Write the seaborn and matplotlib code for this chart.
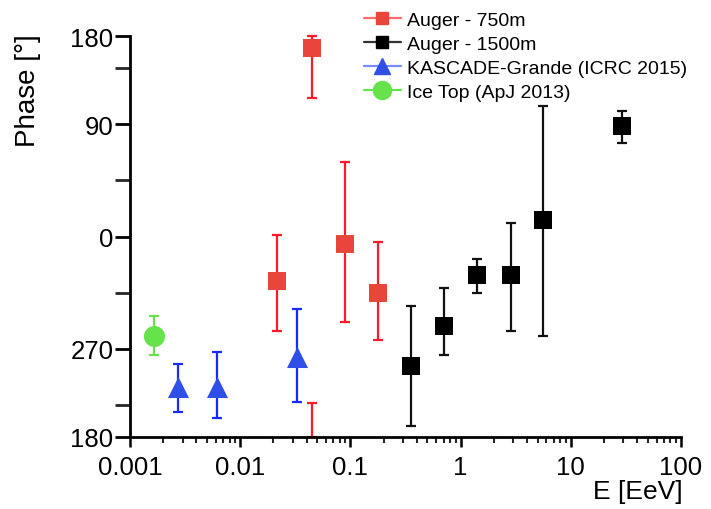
import numpy as np
import pandas as pd
import matplotlib
matplotlib.use("Agg")
import matplotlib.pyplot as plt
from matplotlib.lines import Line2D
import seaborn as sns

# ---- data (phase in degrees, shown on a wrapped -180..180 axis) ----
a750_E = [0.0449, 0.0216, 0.0893, 0.178]
a750_phase = [151, -36, -6.4, -45]
a750_lo = [111, -75.6, -69, -83]
a750_hi = [161, 1.6, 59.5, -4.8]
# part of the first error bar that wraps past +180 to the bottom
a750_wrap_E = [0.0449]
a750_wrap_lo = [-161]
a750_wrap_hi = [-134]

a1500_E = [0.355, 0.706, 1.41, 2.86, 5.6, 29.2]
a1500_phase = [-103.7, -72, -31, -31, 12.9, 88.4]
a1500_lo = [-152, -95, -45, -75.6, -79.6, 74.8]
a1500_hi = [-56, -41, -18, 11, 104.5, 101]

kg_E = [0.00273, 0.00616, 0.0327]
kg_phase = [-121, -121, -97]
kg_lo = [-141, -146, -133]
kg_hi = [-102, -92.4, -58]

it_E = [0.00165]
it_phase = [-79.6]
it_lo = [-95]
it_hi = [-63.5]

ytick_vals = [-161, -90, 0, 90, 161]
ytick_labels = ["180", "270", "0", "90", "180"]
yminor_vals = [-135, -45, 45, 135]
xtick_vals = [0.001, 0.01, 0.1, 1, 10, 100]
xtick_labels = ["0.001", "0.01", "0.1", "1", "10", "100"]

labels = ["Auger - 750m", "Auger - 1500m", "KASCADE-Grande (ICRC 2015)", "Ice Top (ApJ 2013)"]

sns.set_style("ticks")
plt.rcParams["font.family"] = ["Liberation Sans", "DejaVu Sans"]
plt.rcParams["text.color"] = "black"

fig = plt.figure(figsize=(7.11, 5.10), dpi=100)
ax = fig.add_axes([130/711, 1-438/510, (681-130)/711, (438-37)/510])

series = [
    (a750_E, a750_phase, a750_lo, a750_hi, "#e8463a", "#ff1a2a", "s", 150, labels[0]),
    (a1500_E, a1500_phase, a1500_lo, a1500_hi, "#000000", "#111111", "s", 150, labels[1]),
    (kg_E, kg_phase, kg_lo, kg_hi, "#2f4fe6", "#1a2aff", "^", 230, labels[2]),
    (it_E, it_phase, it_lo, it_hi, "#66e24a", "#66e24a", "o", 230, labels[3]),
]

for E, ph, lo, hi, mc, ec, mk, sz, lab in series:
    ph = np.array(ph); lo = np.array(lo); hi = np.array(hi)
    ax.errorbar(E, ph, yerr=[ph - lo, hi - ph], fmt="none", ecolor=ec,
                elinewidth=1.6, capsize=3.5, capthick=1.6, zorder=2, clip_on=False)
    df = pd.DataFrame({"E": E, "phase": ph})
    sns.scatterplot(data=df, x="E", y="phase", ax=ax, marker=mk, s=sz,
                    color=mc, edgecolor=mc, linewidth=0, zorder=3, legend=False)

# wrapped segment of the red error bar
wmid = (np.array(a750_wrap_lo) + np.array(a750_wrap_hi)) / 2
ax.errorbar(a750_wrap_E, wmid, yerr=[wmid - np.array(a750_wrap_lo), np.array(a750_wrap_hi) - wmid],
            fmt="none", ecolor="#ff1a2a", elinewidth=1.6, capsize=3.5, capthick=1.6, zorder=2)

ax.set_xscale("log")
ax.set_xlim(0.001, 100)
ax.set_ylim(-161, 161)
ax.set_xticks(xtick_vals)
ax.set_xticklabels(xtick_labels)
ax.set_yticks(ytick_vals)
ax.set_yticklabels(ytick_labels)
ax.set_yticks(yminor_vals, minor=True)
ax.xaxis.set_minor_locator(matplotlib.ticker.LogLocator(base=10, subs=np.arange(2, 10)))
ax.xaxis.set_minor_formatter(matplotlib.ticker.NullFormatter())

ax.set_xlabel("")
ax.set_ylabel("")
for s in ["top", "right"]:
    ax.spines[s].set_visible(False)
for s in ["left", "bottom"]:
    ax.spines[s].set_linewidth(2)
    ax.spines[s].set_color("black")

ax.tick_params(axis="y", which="major", length=11, width=2, labelsize=18.5, pad=1, colors="black")
ax.tick_params(axis="y", which="minor", length=11, width=2)
ax.tick_params(axis="x", which="major", length=7, width=1.8, labelsize=18.5, pad=6, colors="black")
ax.tick_params(axis="x", which="minor", length=4, width=1.5)

fig.text(28/711, 1-91/510, "Phase [°]", rotation=90, ha="center", va="center", fontsize=20, color="black")
fig.text(683/711, 1-492/510, "E [EeV]", ha="right", va="center", fontsize=19, color="black")

handles = [
    Line2D([], [], color="#ff6a6a", lw=1.6, marker="s", ms=9, mfc="#e8463a", mec="#e8463a"),
    Line2D([], [], color="#333333", lw=1.6, marker="s", ms=9, mfc="black", mec="black"),
    Line2D([], [], color="#7a8aff", lw=1.6, marker="^", ms=12, mfc="#2f4fe6", mec="#2f4fe6"),
    Line2D([], [], color="#66e24a", lw=1.6, marker="o", ms=13, mfc="#66e24a", mec="#66e24a"),
]
fig.legend(handles, labels, loc="upper left", bbox_to_anchor=(364/711, 1-12/510),
           frameon=False, fontsize=14, borderpad=0, borderaxespad=0,
           labelspacing=0.33, handlelength=1.9, handletextpad=0.3)

fig.savefig("out.png", dpi=100)
